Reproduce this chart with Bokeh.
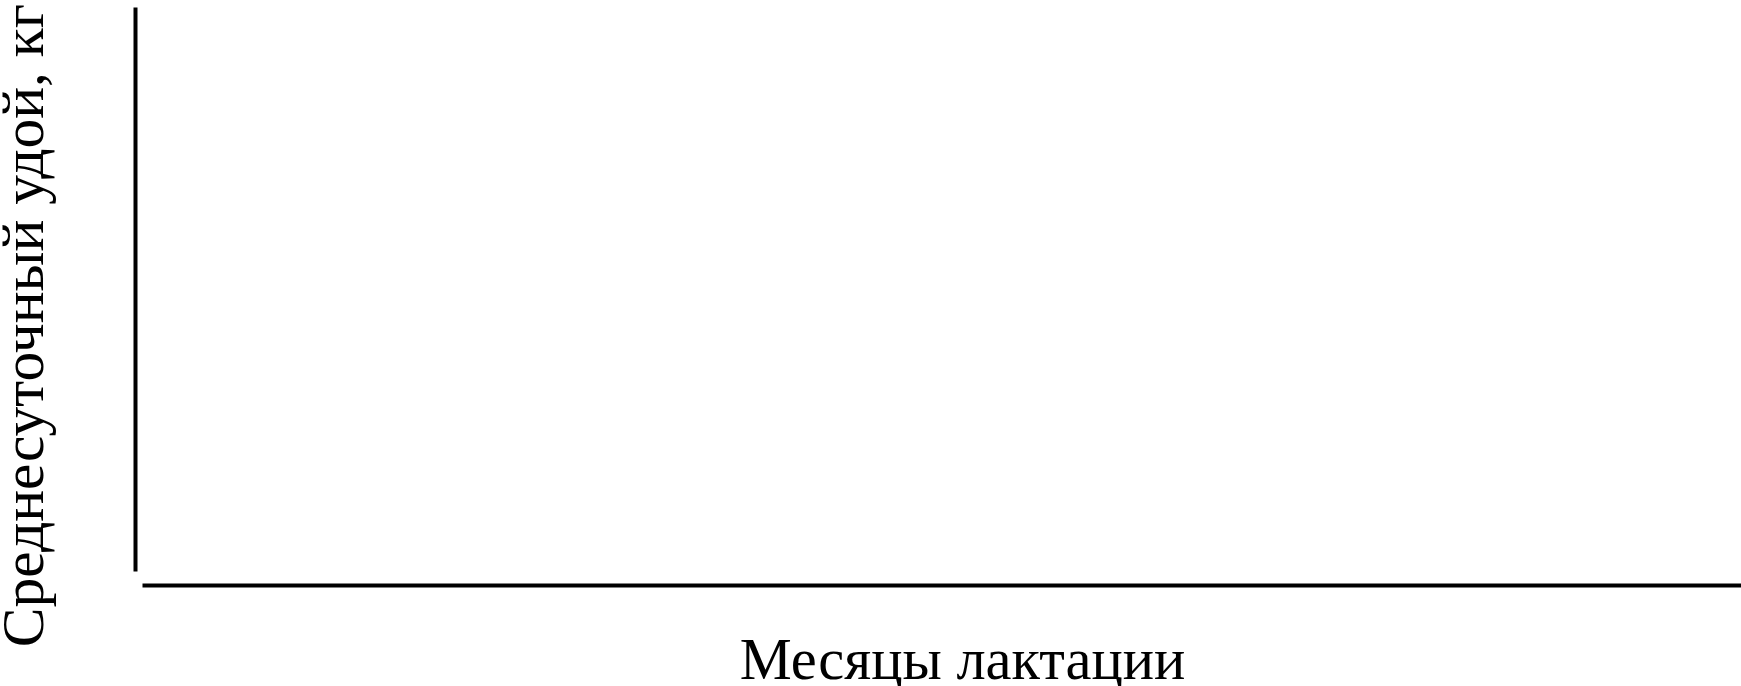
import math
from bokeh.plotting import figure
from bokeh.models import Range1d, LinearAxis, Label, FixedTicker
from bokeh.embed import file_html
from bokeh.resources import INLINE

# Chart content (empty chart: only axes and their titles)
x_title = "Месяцы лактации"
y_title = "Среднесуточный удой, кг"

# Layout constants (pixel-like coordinate system, y grows downwards)
W, H = 1741, 686
Y_AXIS_X, Y_AXIS_TOP, Y_AXIS_BOTTOM = 135, 7, 571
X_AXIS_Y, X_AXIS_LEFT, X_AXIS_RIGHT = 585, 142, W
X_TITLE_POS = (962, 659)
Y_TITLE_POS = (22, 325)

p = figure(width=W, height=H, output_backend="svg", toolbar_location=None,
           x_range=Range1d(0, W), y_range=Range1d(H, 0),
           x_axis_type=None, y_axis_type=None,
           min_border=0, min_border_left=0, min_border_right=0,
           min_border_top=0, min_border_bottom=0)
p.outline_line_color = None
p.background_fill_color = "white"
p.border_fill_color = "white"

xa = LinearAxis(fixed_location=X_AXIS_Y, bounds=(X_AXIS_LEFT, X_AXIS_RIGHT),
                ticker=FixedTicker(ticks=[]))
ya = LinearAxis(fixed_location=Y_AXIS_X, bounds=(Y_AXIS_TOP, Y_AXIS_BOTTOM),
                ticker=FixedTicker(ticks=[]))
for ax in (xa, ya):
    ax.axis_line_width = 4
    ax.axis_line_color = "black"
    ax.major_tick_line_color = None
    ax.minor_tick_line_color = None
    ax.major_label_text_color = None
    ax.major_label_text_font_size = "0px"
p.add_layout(xa, "below")
p.add_layout(ya, "left")

font = "Liberation Serif"
p.add_layout(Label(x=X_TITLE_POS[0], y=X_TITLE_POS[1], text=x_title,
                   text_font=font, text_font_size="58.5px",
                   text_align="center", text_baseline="alphabetic",
                   text_color="black"))
p.add_layout(Label(x=Y_TITLE_POS[0], y=Y_TITLE_POS[1], text=y_title,
                   text_font=font, text_font_size="59.5px",
                   angle=math.pi / 2, text_align="center",
                   text_baseline="alphabetic", text_color="black"))

open("out.html", "w").write(file_html(p, INLINE))
